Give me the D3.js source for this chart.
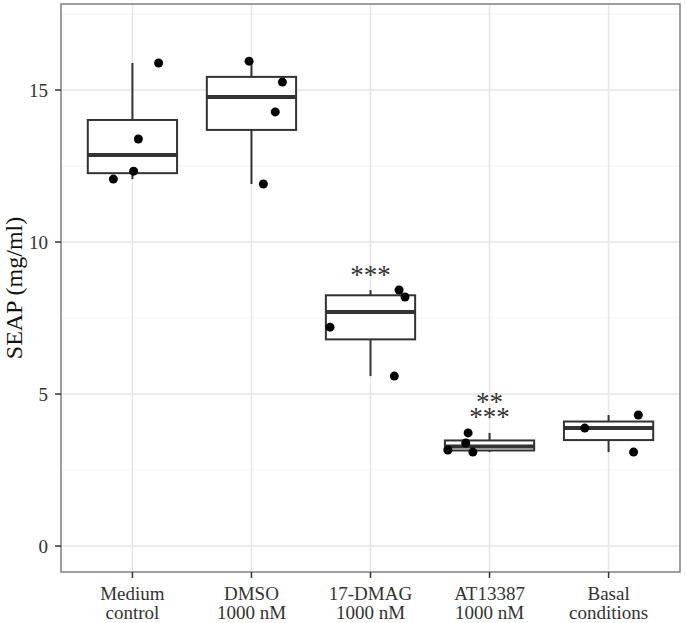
<!DOCTYPE html>
<html><head><meta charset="utf-8">
<script src="https://cdn.jsdelivr.net/npm/d3@7"></script>
<style>body{margin:0;background:#fff}svg{display:block}</style>
</head><body>
<script>
const categories = ["Medium\ncontrol","DMSO\n1000 nM","17-DMAG\n1000 nM","AT13387\n1000 nM","Basal\nconditions"];
const pointValues = [
  [12.07, 12.33, 13.39, 15.89],
  [15.95, 11.91, 14.28, 15.26],
  [7.20, 5.59, 8.42, 8.19],
  [3.16, 3.39, 3.72, 3.09],
  [3.88, 3.09, 4.31]
];
const pointJitter = [
  [-0.16, 0.01, 0.05, 0.22],
  [-0.02, 0.10, 0.20, 0.26],
  [-0.34, 0.20, 0.24, 0.29],
  [-0.35, -0.20, -0.18, -0.14],
  [-0.20, 0.21, 0.25]
];
const yTicks = [0, 5, 10, 15];
const yMinorTicks = [2.5, 7.5, 12.5, 17.5];
const annotations = [
  {cat: 2, lines: ["***"], value: 8.62},
  {cat: 3, lines: ["**", "***"], value: 3.95}
];
const yLabel = "SEAP (mg/ml)";

const W = 685, H = 623;
const panel = {left: 61, right: 680, top: 4, bottom: 572};
const svg = d3.select("body").append("svg").attr("width", W).attr("height", H);
const font = "'Liberation Serif', 'Times New Roman', serif";

const x = d3.scalePoint().domain(d3.range(categories.length)).range([panel.left, panel.right]).padding(0.6);
const step = x.step();
const y = d3.scaleLinear().domain([-0.855, 17.83]).range([panel.bottom, panel.top]);

// grid
const g = svg.append("g");
g.selectAll(".ymin").data(yMinorTicks).join("line")
  .attr("x1", panel.left).attr("x2", panel.right)
  .attr("y1", d => y(d)).attr("y2", d => y(d))
  .attr("stroke", "#f5f5f5").attr("stroke-width", 1.2);
g.selectAll(".ymaj").data(yTicks).join("line")
  .attr("x1", panel.left).attr("x2", panel.right)
  .attr("y1", d => y(d)).attr("y2", d => y(d))
  .attr("stroke", "#e6e6e6").attr("stroke-width", 1.5);
g.selectAll(".xmaj").data(d3.range(categories.length)).join("line")
  .attr("x1", d => x(d)).attr("x2", d => x(d))
  .attr("y1", panel.top).attr("y2", panel.bottom)
  .attr("stroke", "#e6e6e6").attr("stroke-width", 1.5);

// boxes
const boxW = step * 0.75;
pointValues.forEach((vals, i) => {
  const s = vals.slice().sort(d3.ascending);
  const q1 = d3.quantile(s, 0.25), med = d3.quantile(s, 0.5), q3 = d3.quantile(s, 0.75);
  const iqr = q3 - q1;
  const lo = d3.min(s.filter(v => v >= q1 - 1.5 * iqr));
  const hi = d3.max(s.filter(v => v <= q3 + 1.5 * iqr));
  const cx = x(i);
  const bg = svg.append("g");
  bg.append("line").attr("x1", cx).attr("x2", cx).attr("y1", y(hi)).attr("y2", y(q3))
    .attr("stroke", "#333").attr("stroke-width", 2);
  bg.append("line").attr("x1", cx).attr("x2", cx).attr("y1", y(q1)).attr("y2", y(lo))
    .attr("stroke", "#333").attr("stroke-width", 2);
  bg.append("rect").attr("x", cx - boxW / 2).attr("width", boxW)
    .attr("y", y(q3)).attr("height", y(q1) - y(q3))
    .attr("fill", "#fff").attr("stroke", "#333").attr("stroke-width", 2);
  bg.append("line").attr("x1", cx - boxW / 2).attr("x2", cx + boxW / 2)
    .attr("y1", y(med)).attr("y2", y(med))
    .attr("stroke", "#333").attr("stroke-width", 4);
});

// points
pointValues.forEach((vals, i) => {
  svg.append("g").selectAll("circle").data(vals).join("circle")
    .attr("cx", (d, j) => x(i) + pointJitter[i][j] * step)
    .attr("cy", d => y(d)).attr("r", 4.5).attr("fill", "#000");
});

// annotations
annotations.forEach(a => {
  const n = a.lines.length;
  a.lines.forEach((t, k) => {
    svg.append("text").attr("x", x(a.cat)).attr("y", y(a.value) - (n - 1 - k) * 15)
      .attr("text-anchor", "middle").attr("font-family", font).attr("font-size", 27)
      .attr("fill", "#333").text(t);
  });
});

// panel border
svg.append("rect").attr("x", panel.left).attr("y", panel.top)
  .attr("width", panel.right - panel.left).attr("height", panel.bottom - panel.top)
  .attr("fill", "none").attr("stroke", "#7f7f7f").attr("stroke-width", 1.5);

// y axis
const ya = svg.append("g");
ya.selectAll("line").data(yTicks).join("line")
  .attr("x1", panel.left - 6).attr("x2", panel.left)
  .attr("y1", d => y(d)).attr("y2", d => y(d)).attr("stroke", "#333").attr("stroke-width", 1.5);
ya.selectAll("text").data(yTicks).join("text")
  .attr("x", panel.left - 13).attr("y", d => y(d)).attr("dy", "0.35em")
  .attr("text-anchor", "end").attr("font-family", font).attr("font-size", 19)
  .attr("fill", "#333").text(d => d);

// x axis
const xa = svg.append("g");
xa.selectAll("line").data(d3.range(categories.length)).join("line")
  .attr("x1", d => x(d)).attr("x2", d => x(d))
  .attr("y1", panel.bottom).attr("y2", panel.bottom + 6).attr("stroke", "#333").attr("stroke-width", 1.5);
categories.forEach((c, i) => {
  const t = xa.append("text").attr("text-anchor", "middle").attr("font-family", font)
    .attr("font-size", 19).attr("fill", "#333");
  c.split("\n").forEach((line, k) => {
    t.append("tspan").attr("x", x(i)).attr("y", 600 + k * 19).text(line);
  });
});

// y label
svg.append("text").attr("transform", `translate(22,${(panel.top + panel.bottom) / 2}) rotate(-90)`)
  .attr("text-anchor", "middle").attr("font-family", font).attr("font-size", 24)
  .attr("fill", "#111").text(yLabel);
</script>
</body></html>
